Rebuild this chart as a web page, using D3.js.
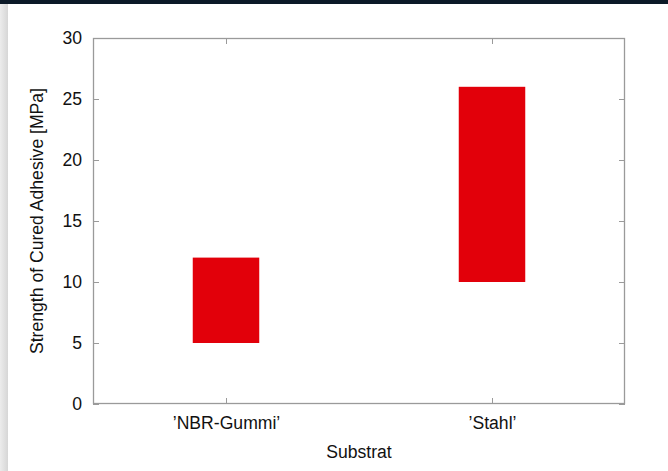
<!DOCTYPE html>
<head>
  <meta charset="utf-8">
  <script src="https://d3js.org/d3.v7.min.js"></script>
  <style>
    html, body { margin: 0; padding: 0; background: #fff; }
    svg { display: block; }
    .tick-label { font: 17.6px "Liberation Sans", Arial, sans-serif; fill: #111; }
    .axis-title { font: 17.6px "Liberation Sans", Arial, sans-serif; fill: #111; }
  </style>
</head>
<body>
<script>
// data
var categories = ["\u2019NBR-Gummi\u2019", "\u2019Stahl\u2019"];
var lowValues = [5, 10];
var highValues = [12, 26];
var yTicks = [0, 5, 10, 15, 20, 25, 30];

var width = 668, height = 471;
var margin = {left: 93, right: 43, top: 38, bottom: 67};

var svg = d3.select("body").append("svg")
  .attr("width", width)
  .attr("height", height);

// page chrome around the plot
svg.append("rect").attr("x", 0).attr("y", 0).attr("width", width).attr("height", height).attr("fill", "#fff");
var grad = svg.append("defs").append("linearGradient").attr("id", "edge");
grad.append("stop").attr("offset", "0%").attr("stop-color", "#ececec");
grad.append("stop").attr("offset", "100%").attr("stop-color", "#d6d6d6");
svg.append("rect").attr("x", 0).attr("y", 0).attr("width", 8).attr("height", height).attr("fill", "url(#edge)");
svg.append("rect").attr("x", 0).attr("y", 0).attr("width", width).attr("height", 4).attr("fill", "#0b1927");

var x = d3.scaleLinear()
  .domain([-0.5, categories.length - 0.5])
  .range([margin.left, width - margin.right]);
var y = d3.scaleLinear()
  .domain([0, 30])
  .range([height - margin.bottom, margin.top]);

var bw = x(0.125) - x(0);

// bars (floating ranges)
svg.selectAll("rect.bar")
  .data(categories)
  .enter().append("rect")
  .attr("class", "bar")
  .attr("x", function(d, i) { return x(i) - bw; })
  .attr("width", bw * 2)
  .attr("y", function(d, i) { return y(highValues[i]); })
  .attr("height", function(d, i) { return y(lowValues[i]) - y(highValues[i]); })
  .attr("fill", "#e2000a");

var axisColor = "#9a9a9a";
var tl = 6;

// ticks on all four sides, pointing inward
var axLeft = svg.append("g").attr("transform", "translate(" + margin.left + ",0)")
  .call(d3.axisLeft(y).tickValues(yTicks).tickSize(-tl).tickPadding(11));
var axRight = svg.append("g").attr("transform", "translate(" + (width - margin.right) + ",0)")
  .call(d3.axisRight(y).tickValues(yTicks).tickSize(-tl).tickFormat(""));
var axBottom = svg.append("g").attr("transform", "translate(0," + (height - margin.bottom) + ")")
  .call(d3.axisBottom(x).tickValues(d3.range(categories.length)).tickSize(-tl).tickPadding(13)
    .tickFormat(function(i) { return categories[i]; }));
var axTop = svg.append("g").attr("transform", "translate(0," + margin.top + ")")
  .call(d3.axisTop(x).tickValues(d3.range(categories.length)).tickSize(-tl).tickFormat(""));

[axLeft, axRight, axBottom, axTop].forEach(function(g) {
  g.attr("font-size", null).attr("font-family", null);
  g.select(".domain").remove();
  g.selectAll(".tick line").attr("stroke", axisColor);
  g.selectAll(".tick text").attr("class", "tick-label").attr("fill", "#111");
});

// frame
svg.append("rect")
  .attr("x", margin.left + 0.5)
  .attr("y", margin.top + 0.5)
  .attr("width", width - margin.left - margin.right - 1)
  .attr("height", height - margin.top - margin.bottom - 1)
  .attr("fill", "none")
  .attr("stroke", axisColor)
  .attr("stroke-width", 1.3);

svg.append("text")
  .attr("class", "axis-title")
  .attr("text-anchor", "middle")
  .attr("x", (margin.left + width - margin.right) / 2)
  .attr("y", 458)
  .text("Substrat");

svg.append("text")
  .attr("class", "axis-title")
  .attr("text-anchor", "middle")
  .attr("transform", "translate(43," + ((margin.top + height - margin.bottom) / 2) + ") rotate(-90)")
  .text("Strength of Cured Adhesive [MPa]");
</script>
</body>
